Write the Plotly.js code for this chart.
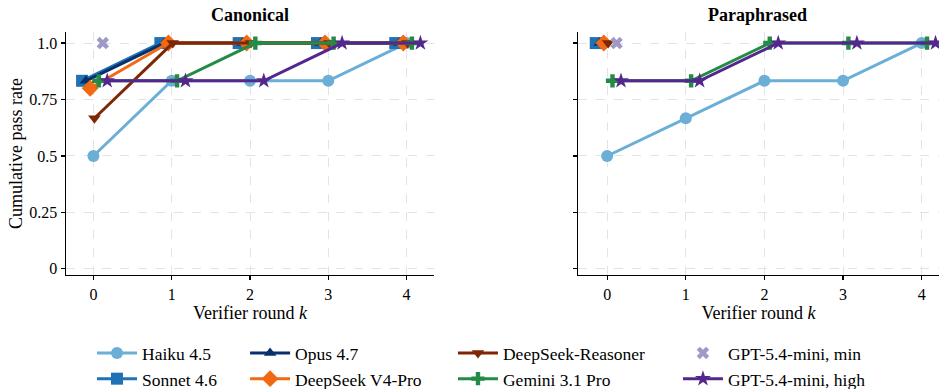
<!DOCTYPE html>
<html>
<head>
<meta charset="utf-8">
<script src="https://cdn.plot.ly/plotly-3.0.1.min.js"></script>
<style>html,body{margin:0;padding:0;background:#fff}#chart{width:939px;height:389px}</style>
</head>
<body>
<div id="chart"></div>
<script>
// ---- data ----
const rounds = [0, 1, 2, 3, 4];
const seriesNames = ["Haiku 4.5", "Sonnet 4.6", "Opus 4.7", "DeepSeek V4-Pro", "DeepSeek-Reasoner", "Gemini 3.1 Pro", "GPT-5.4-mini, min", "GPT-5.4-mini, high"];
const canonHaiku     = [0.5, 0.833, 0.833, 0.833, 1.0];
const canonSonnet    = [0.833, 1.0, 1.0, 1.0, 1.0];
const canonOpus      = [0.833, 1.0, 1.0, 1.0, 1.0];
const canonV4Pro     = [0.8, 1.0, 1.0, 1.0, 1.0];
const canonReasoner  = [0.667, 1.0, 1.0, 1.0, 1.0];
const canonGemini    = [0.833, 0.833, 1.0, 1.0, 1.0];
const canonGptMin    = [1.0, null, null, null, null];
const canonGptHigh   = [0.833, 0.833, 0.833, 1.0, 1.0];
const paraHaiku      = [0.5, 0.667, 0.833, 0.833, 1.0];
const paraSonnet     = [1.0, null, null, null, null];
const paraOpus       = [1.0, null, null, null, null];
const paraV4Pro      = [1.0, null, null, null, null];
const paraReasoner   = [1.0, null, null, null, null];
const paraGemini     = [0.833, 0.833, 1.0, 1.0, 1.0];
const paraGptMin     = [1.0, null, null, null, null];
const paraGptHigh    = [0.833, 0.833, 1.0, 1.0, 1.0];
const yTickVals  = [0, 0.25, 0.5, 0.75, 1.0];
const yTickText  = ["0", "0.25", "0.5", "0.75", "1.0"];
const xTickVals  = [0, 1, 2, 3, 4];

// ---- styles ----
const colors  = ["#6baed6", "#2171b5", "#08306b", "#f16913", "#7f2704", "#238b45", "#9e9ac8", "#54278f"];
const symbols = ["circle", "square", "triangle-up", "diamond", "triangle-down", "cross", "x", "star"];
const msizes  = [12, 12, 11, 13, 11, 11, 11, 12];
const modes   = ["lines+markers", "lines+markers", "lines+markers", "lines+markers", "lines+markers", "lines+markers", "markers", "lines+markers"];
const dodge   = [0, -0.145, -0.095, -0.042, 0.013, 0.068, 0.12, 0.176];
const legendOf = ["legend", "legend", "legend2", "legend2", "legend3", "legend3", "legend4", "legend4"];

const canon = [canonHaiku, canonSonnet, canonOpus, canonV4Pro, canonReasoner, canonGemini, canonGptMin, canonGptHigh];
const para  = [paraHaiku, paraSonnet, paraOpus, paraV4Pro, paraReasoner, paraGemini, paraGptMin, paraGptHigh];

const traces = [];
function addPanel(vals, xa, ya, showLeg) {
  vals.forEach((ys, i) => {
    traces.push({
      type: "scatter", mode: modes[i],
      x: rounds.map(r => r + dodge[i]), y: ys,
      xaxis: xa, yaxis: ya,
      name: seriesNames[i],
      legend: legendOf[i],
      showlegend: showLeg,
      connectgaps: false,
      line: {color: colors[i], width: 3},
      marker: {symbol: symbols[i], size: msizes[i], color: colors[i], line: {width: 0}},
      cliponaxis: false
    });
  });
}
addPanel(canon, "x", "y", true);
addPanel(para, "x2", "y2", false);

const FAM = "'Liberation Serif', 'Times New Roman', serif";
function f(size) { return {family: FAM, size: size, color: "#000"}; }
function xAxis(domain, range) {
  return {
    domain: domain, range: range, tickvals: xTickVals, ticks: "outside", ticklen: 4, tickwidth: 1.2,
    tickcolor: "#000", showline: true, linecolor: "#000", linewidth: 1.5, mirror: false,
    showgrid: true, gridcolor: "#e3e3e3", griddash: "dash", gridwidth: 1, zeroline: false,
    tickfont: f(16), automargin: false,
    title: {text: "Verifier round <i>k</i>", font: f(18), standoff: 3}
  };
}
function yAxis(anchor, showLabels, title) {
  return {
    domain: [0.2931, 0.9177], range: [-0.027, 1.049], anchor: anchor,
    tickvals: yTickVals, ticktext: yTickText, showticklabels: showLabels,
    ticks: "outside", ticklen: 4, tickwidth: 1.2, tickcolor: "#000",
    showline: true, linecolor: "#000", linewidth: 1.5,
    showgrid: true, gridcolor: "#e3e3e3", griddash: "dash", gridwidth: 1, zeroline: false,
    tickfont: f(16), automargin: false,
    title: title ? {text: title, font: f(18), standoff: 2} : {text: ""}
  };
}
function legendAt(x) {
  return {x: x, y: 0.059, xanchor: "left", yanchor: "middle", orientation: "v",
          font: f(17.5), itemwidth: 40, tracegroupgap: 0,
          bgcolor: "rgba(0,0,0,0)", borderwidth: 0};
}

const layout = {
  width: 939, height: 389,
  margin: {l: 0, r: 0, t: 0, b: 0, autoexpand: false},
  paper_bgcolor: "#fff", plot_bgcolor: "#fff",
  font: f(16),
  showlegend: true,
  xaxis: xAxis([0.0703, 0.4622], [-0.35, 4.35]),
  yaxis: yAxis("x", true, "Cumulative pass rate"),
  xaxis2: Object.assign(xAxis([0.6156, 1.0], [-0.37, 4.22]), {anchor: "y2"}),
  yaxis2: yAxis("x2", false, null),
  legend: legendAt(0.098),
  legend2: legendAt(0.261),
  legend3: legendAt(0.4824),
  legend4: legendAt(0.722),
  annotations: [
    {text: "<b>Canonical</b>", x: 0.2662, y: 1 - 15/389, xref: "paper", yref: "paper", showarrow: false, xanchor: "center", yanchor: "middle", font: f(18)},
    {text: "<b>Paraphrased</b>", x: 0.8067, y: 1 - 15/389, xref: "paper", yref: "paper", showarrow: false, xanchor: "center", yanchor: "middle", font: f(18)}
  ]
};
Plotly.newPlot("chart", traces, layout, {displayModeBar: false, staticPlot: true});
</script>
</body>
</html>
